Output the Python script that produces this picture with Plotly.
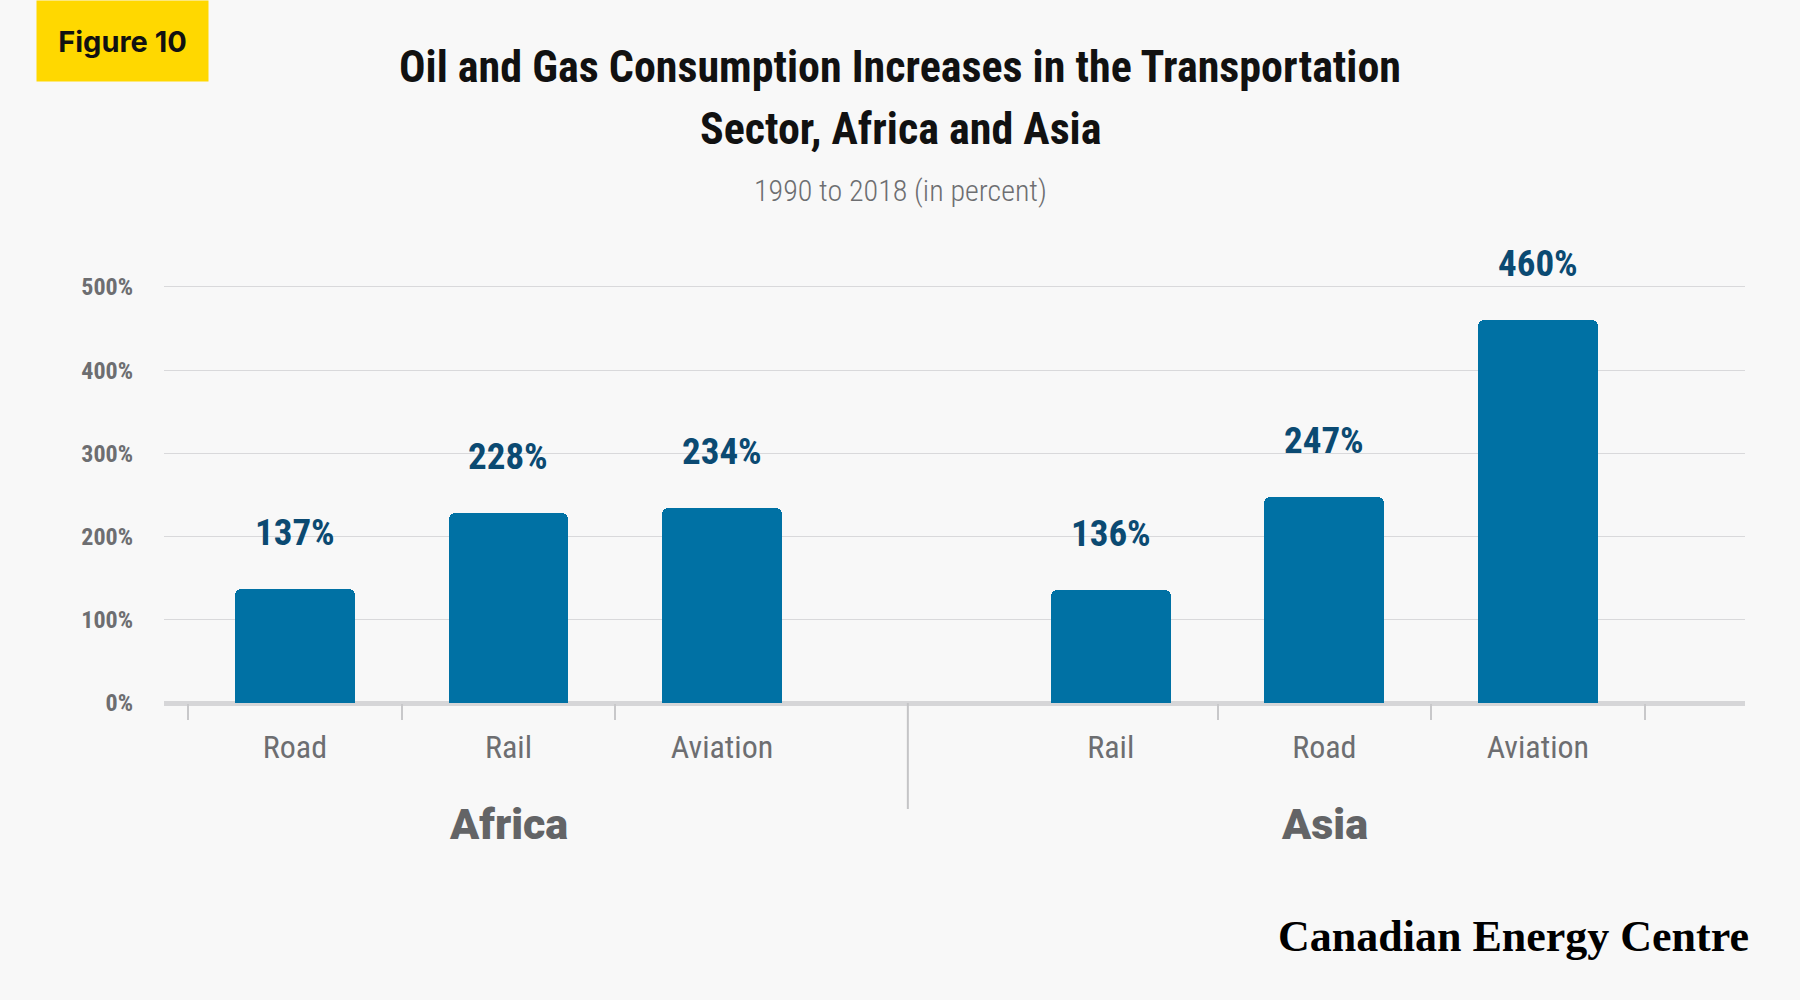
import plotly.graph_objects as go

# data
regions = ["Africa", "Asia"]
africa_modes = ["Road", "Rail", "Aviation"]
africa_values = [137, 228, 234]
asia_modes = ["Rail", "Road", "Aviation"]
asia_values = [136, 247, 460]
y_ticks = [0, 100, 200, 300, 400, 500]

title_lines = ["Oil and Gas Consumption Increases in the Transportation", "Sector, Africa and Asia"]
subtitle = "1990 to 2018 (in percent)"
badge = "Figure 10"
source = "Canadian Energy Centre"

# page geometry (pixels, measured on the reference)
W, H = 1800, 1000
PLOT_L, PLOT_R = 164, 1745
PLOT_T, PLOT_B = 237, 703
ASIA_START = 3.82   # slot where the second group begins
DIVIDER_X = 2.87

NARROW = "Liberation Sans Narrow, Roboto Condensed, DejaVu Sans Condensed, Arial Narrow, sans-serif"
GREY = "#6d6e71"
BAR = "#0071a4"
LABEL = "#0b4a72"
BG = "#f8f8f8"


def paper_x(px):
    return (px - PLOT_L) / (PLOT_R - PLOT_L)


def paper_y(py):
    return (PLOT_B - py) / (PLOT_B - PLOT_T)


africa_x = [i for i in range(len(africa_modes))]
asia_x = [ASIA_START + i for i in range(len(asia_modes))]
all_x = africa_x + asia_x
all_vals = africa_values + asia_values
bounds = [x - 0.5 for x in africa_x] + [x + 0.5 for x in asia_x]

fig = go.Figure()
for name, xs, vals in [(regions[0], africa_x, africa_values), (regions[1], asia_x, asia_values)]:
    fig.add_trace(go.Bar(
        x=xs, y=vals, name=name, width=0.56,
        marker=dict(color=BAR, cornerradius=6, line=dict(width=0)),
        hoverinfo="skip", showlegend=False,
    ))

# value labels above the bars
for x, v in zip(all_x, all_vals):
    fig.add_annotation(
        x=x, y=v, text=f"{v}%", showarrow=False, yanchor="bottom", yshift=33,
        font=dict(family=NARROW, size=37, color=LABEL, weight="bold"),
    )

# group labels
for name, xs in [(regions[0], africa_x), (regions[1], asia_x)]:
    fig.add_annotation(
        x=xs[1], xref="x", y=paper_y(824), yref="paper", yanchor="middle",
        text=name, showarrow=False,
        font=dict(family="Roboto, Inter, sans-serif", size=43, color="#636466", weight=900),
    )

# divider between the groups
fig.add_shape(type="line", xref="x", yref="paper", x0=DIVIDER_X, x1=DIVIDER_X,
              y0=0, y1=paper_y(809), line=dict(color="#c4c4c6", width=2))

# title block
for line, ypx in zip(title_lines, [67, 129]):
    fig.add_annotation(
        x=paper_x(900), y=paper_y(ypx), xref="paper", yref="paper", xanchor="center",
        yanchor="middle", text=f"<b>{line}</b>", showarrow=False,
        font=dict(family=NARROW, size=44, color="#111111"),
    )
fig.add_annotation(
    x=paper_x(900), y=paper_y(190), xref="paper", yref="paper", xanchor="center",
    yanchor="middle", text=subtitle, showarrow=False,
    font=dict(family=NARROW, size=30, color=GREY, weight=300),
)

# yellow badge
fig.add_annotation(
    x=paper_x(36), y=paper_y(0), xref="paper", yref="paper", xanchor="left", yanchor="top",
    text=f"<b>{badge}</b>", showarrow=False, width=171, height=80, bgcolor="#ffd800",
    borderpad=0, font=dict(family="Inter, Roboto, sans-serif", size=29, color="#111111"),
)

# source logo
fig.add_annotation(
    x=paper_x(1751), y=paper_y(936), xref="paper", yref="paper", xanchor="right",
    yanchor="middle", text=f"<b>{source}</b>", showarrow=False,
    font=dict(family="Liberation Serif, DejaVu Serif, serif", size=44, color="#000000"),
)

fig.update_layout(
    width=W, height=H,
    margin=dict(l=PLOT_L, r=W - PLOT_R, t=PLOT_T, b=H - PLOT_B, pad=0),
    paper_bgcolor=BG, plot_bgcolor=BG,
    bargap=0, showlegend=False,
)
fig.update_xaxes(
    range=[-0.613, 6.79], tickmode="array", tickvals=all_x, ticktext=africa_modes + asia_modes,
    ticks="", showgrid=False, zeroline=False, showline=False,
    tickfont=dict(family=NARROW, size=32, color=GREY), ticklabelstandoff=22,
    minor=dict(tickmode="array", tickvals=bounds, ticks="outside", ticklen=16,
               tickcolor="#c8c8ca", tickwidth=2, showgrid=False),
)
fig.update_yaxes(
    range=[0, 560], tickmode="array", tickvals=y_ticks, ticktext=[f"{v}%" for v in y_ticks],
    showgrid=True, gridcolor="#d9d9db", gridwidth=1,
    zeroline=True, zerolinecolor="#d6d6d8", zerolinewidth=5,
    showline=False, ticks="", ticklabelstandoff=30,
    tickfont=dict(family=NARROW, size=24, color=GREY, weight="bold"),
)

fig.write_html("out.html", config={"displayModeBar": False},
               post_script="document.body.style.margin='0';")
